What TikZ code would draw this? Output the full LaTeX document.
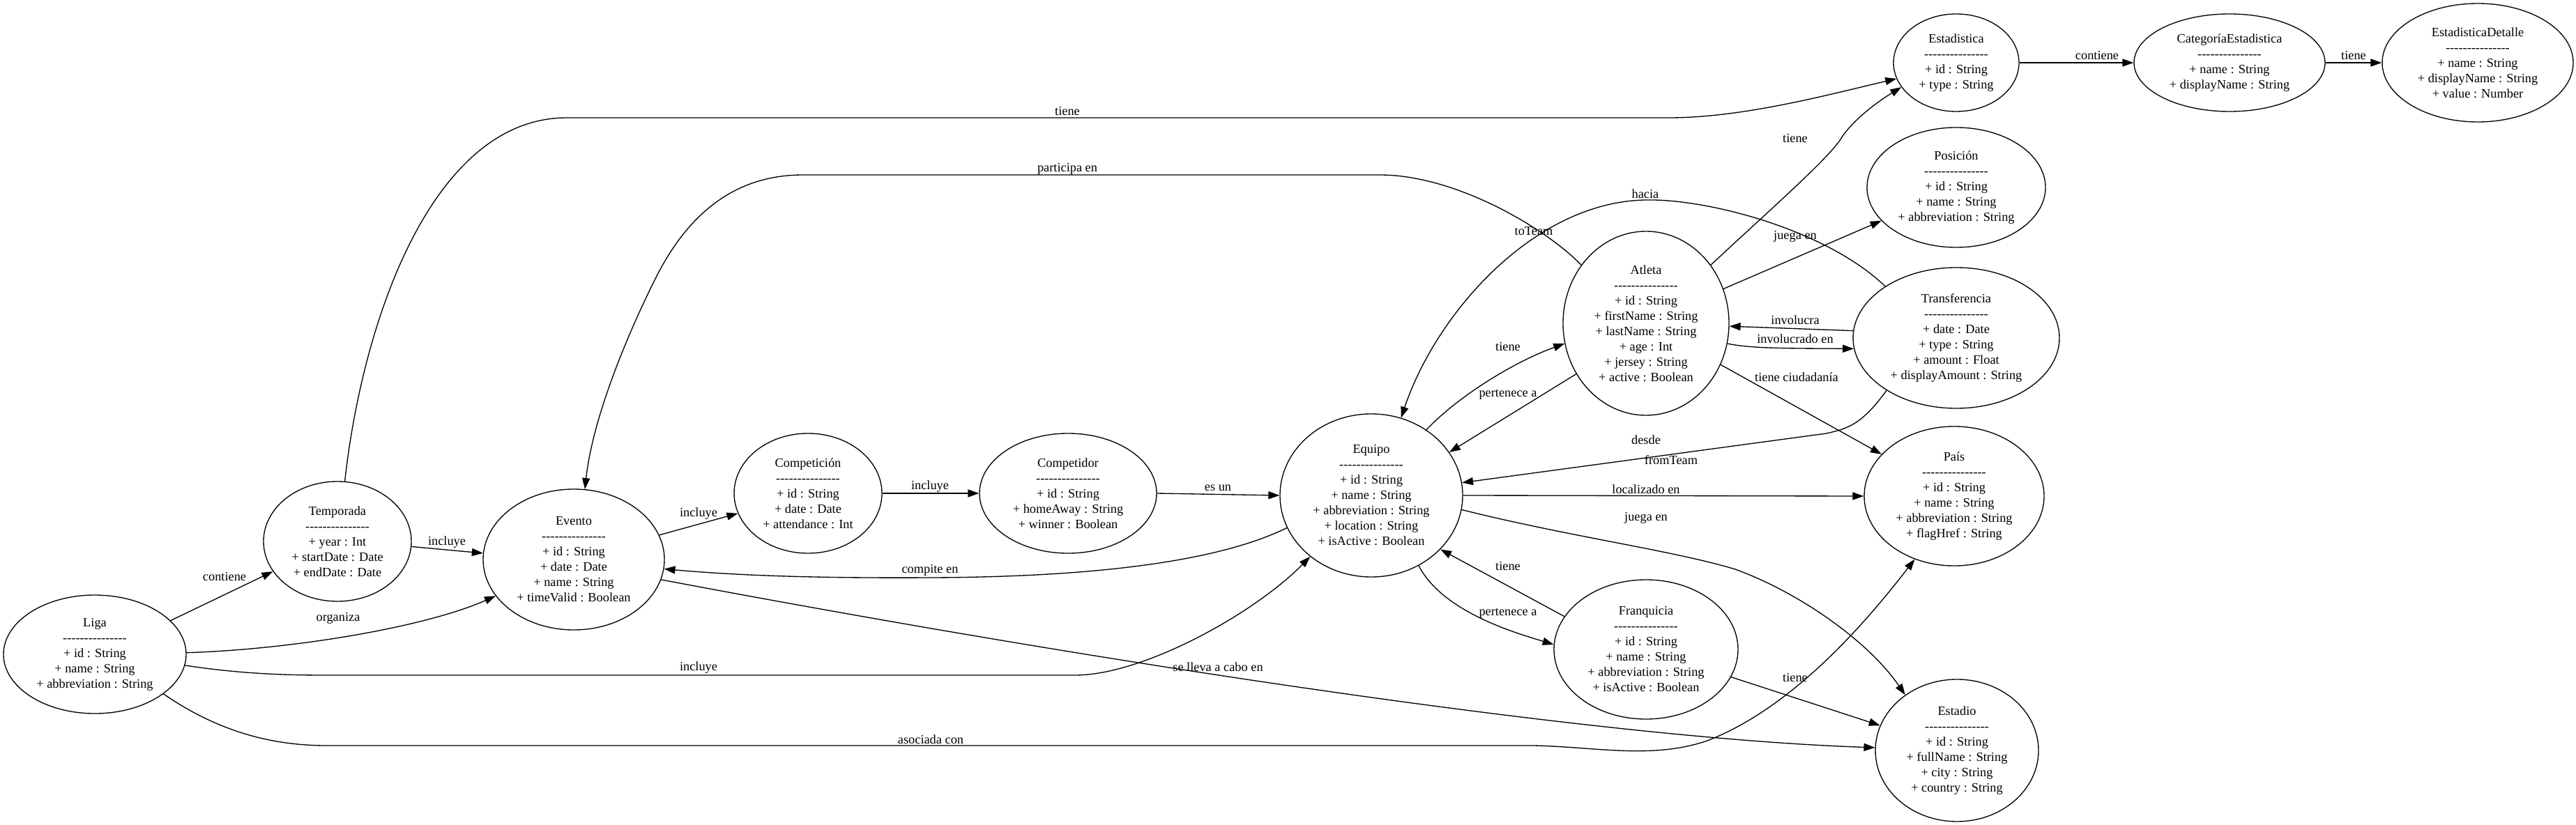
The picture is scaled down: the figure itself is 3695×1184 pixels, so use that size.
\documentclass[tikz,border=0pt]{standalone}
\usepackage{fontspec}
\setmainfont{Liberation Serif}
\usetikzlibrary{shapes.geometric,arrows.meta}
\newcommand\dl{-\kern0pt-\kern0pt-\kern0pt-\kern0pt-\kern0pt-\kern0pt-\kern0pt-\kern0pt-\kern0pt-\kern0pt-\kern0pt-\kern0pt-\kern0pt-\kern0pt-}
\begin{document}
\begin{tikzpicture}[x=0.75pt,y=-0.75pt,
  ent/.style 2 args={ellipse,draw,line width=1pt,inner sep=0pt,minimum width=#1*1.5pt,minimum height=#2*1.5pt,align=center,font=\fontsize{13.75pt}{16.5pt}\selectfont},
  lbl/.style={inner sep=0pt,font=\fontsize{13.75pt}{16.5pt}\selectfont},
  rel/.style={draw,line width=1pt,-{Triangle[length=12pt,width=8.3pt]}}]
\useasboundingbox[fill=white] (0,0) rectangle (3695,1184);

% entities
\node[ent={131}{85}] (liga) at (136,939) {Liga\\\dl\\+ id : String\\+ name : String\\+ abbreviation : String};
\node[ent={106}{86}] (temporada) at (484,777) {Temporada\\\dl\\+ year : Int\\+ startDate : Date\\+ endDate : Date};
\node[ent={130}{101}] (evento) at (823,803) {Evento\\\dl\\+ id : String\\+ date : Date\\+ name : String\\+ timeValid : Boolean};
\node[ent={106}{86}] (competicion) at (1159,708) {Competición\\\dl\\+ id : String\\+ date : Date\\+ attendance : Int};
\node[ent={127}{86}] (competidor) at (1532,708) {Competidor\\\dl\\+ id : String\\+ homeAway : String\\+ winner : Boolean};
\node[ent={131}{117}] (equipo) at (1967,711) {Equipo\\\dl\\+ id : String\\+ name : String\\+ abbreviation : String\\+ location : String\\+ isActive : Boolean};
\node[ent={119}{132}] (atleta) at (2361,464) {Atleta\\\dl\\+ id : String\\+ firstName : String\\+ lastName : String\\+ age : Int\\+ jersey : String\\+ active : Boolean};
\node[ent={148}{101}] (transferencia) at (2806,485) {Transferencia\\\dl\\+ date : Date\\+ type : String\\+ amount : Float\\+ displayAmount : String};
\node[ent={129}{100}] (pais) at (2803,712) {País\\\dl\\+ id : String\\+ name : String\\+ abbreviation : String\\+ flagHref : String};
\node[ent={128}{86}] (posicion) at (2806,269) {Posición\\\dl\\+ id : String\\+ name : String\\+ abbreviation : String};
\node[ent={132}{100}] (franquicia) at (2361,932) {Franquicia\\\dl\\+ id : String\\+ name : String\\+ abbreviation : String\\+ isActive : Boolean};
\node[ent={117}{102}] (estadio) at (2807,1077) {Estadio\\\dl\\+ id : String\\+ fullName : String\\+ city : String\\+ country : String};
\node[ent={90}{70}] (estadistica) at (2806,90) {Estadistica\\\dl\\+ id : String\\+ type : String};
\node[ent={137}{70}] (categoria) at (3198,90) {CategoríaEstadistica\\\dl\\+ name : String\\+ displayName : String};
\node[ent={137}{85}] (detalle) at (3554,90) {EstadisticaDetalle\\\dl\\+ name : String\\+ displayName : String\\+ value : Number};

% connectors
\draw[rel] (liga.24) -- (temporada.205);
\draw[rel] (liga.1) .. controls (420,932) and (610,900) .. (evento.205);
\draw[rel] (temporada.-4) -- (evento.176);
\draw[rel] (liga.-7) .. controls (350,968) and (420,969) .. (469,969) -- (1542,969) .. controls (1640,969) and (1800,880) .. (equipo.225);
\draw[rel] (liga.-30) .. controls (320,1055) and (400,1070) .. (469,1070) -- (2200,1070) .. controls (2290,1072) and (2370,1090) .. (2449,1063) .. controls (2560,1020) and (2660,915) .. (pais.-122);
\draw[rel] (evento.16) -- (competicion.196);
\draw[rel] (competicion.0) -- (competidor.180);
\draw[rel] (competidor.0) -- (equipo.180);
\draw[rel] (equipo.201) .. controls (1760,800) and (1600,828) .. (1334,829) .. controls (1150,830) and (1050,825) .. (evento.-6);
\draw[rel] (evento.-13) .. controls (1600,955) and (2300,1060) .. (estadio.178);
\draw[rel] (equipo.50) .. controls (2090,570) and (2170,520) .. (atleta.194);
\draw[rel] (atleta.216) -- (equipo.29);
\draw[rel] (atleta.138) .. controls (2220,330) and (2090,251) .. (1979,251) -- (1152,251) .. controls (1060,251) and (990,300) .. (940,400) .. controls (900,480) and (850,600) .. (evento.81);
\draw[rel] (temporada.83) .. controls (520,460) and (620,169) .. (813,169) -- (2394,169) .. controls (2500,169) and (2622,136) .. (estadistica.195);
\draw[rel] (atleta.42) .. controls (2540,300) and (2620,230) .. (2640,200) .. controls (2655,175) and (2690,148) .. (estadistica.204);
\draw[rel] (atleta.24) -- (posicion.204);
\draw[rel] (transferencia.176) -- (atleta.-2);
\draw[rel] (atleta.-14) .. controls (2510,500) and (2560,500) .. (transferencia.186);
\draw[rel] (atleta.-29) -- (pais.150);
\draw[rel] (transferencia.144) .. controls (2620,330) and (2450,285) .. (2360,287) .. controls (2200,290) and (2060,450) .. (equipo.69);
\draw[rel] (transferencia.217) .. controls (2670,610) and (2650,615) .. (2620,622) -- (equipo.8);
\draw[rel] (equipo.0) -- (pais.180);
\draw[rel] (equipo.-9) .. controls (2250,770) and (2400,790) .. (2489,817) .. controls (2580,850) and (2680,920) .. (estadio.133);
\draw[rel] (franquicia.158) -- (equipo.-38);
\draw[rel] (equipo.-56) .. controls (2070,880) and (2180,910) .. (franquicia.177);
\draw[rel] (franquicia.-18) -- (estadio.162);
\draw[rel] (estadistica.0) -- (categoria.180);
\draw[rel] (categoria.0) -- (detalle.180);

% labels
\node[lbl] (l1) at (322,828) {contiene};
\node[lbl] (l2) at (485,887) {organiza};
\node[lbl] (l3) at (641,778) {incluye};
\node[lbl] (l4) at (1002,958) {incluye};
\node[lbl] (l5) at (1335,1061) {asociada con};
\node[lbl] (l6) at (1002,737) {incluye};
\node[lbl] (l7) at (1334,698) {incluye};
\node[lbl] (l8) at (1747,700) {es un};
\node[lbl] (l9) at (1334,818) {compite en};
\node[lbl] (l10) at (1747,957) {se lleva a cabo en};
\node[lbl] (l11) at (2163,498) {tiene};
\node[lbl] (l12) at (2163,566) {pertenece a};
\node[lbl] (l13) at (1531,242) {participa en};
\node[lbl] (l14) at (1531,160) {tiene};
\node[lbl] (l15) at (2575,199) {tiene};
\node[lbl] (l16) at (2575,339) {juega en};
\node[lbl] (l17) at (2575,459) {involucra};
\node[lbl] (l18) at (2575,486) {involucrado en};
\node[lbl] (l19) at (2577,541) {tiene ciudadanía};
\node[lbl] (l20) at (2360,278) {hacia};
\node[lbl] (l20b) at (2200,332) {toTeam};
\node[lbl] (l21) at (2361,631) {desde};
\node[lbl] (l21b) at (2397,660) {fromTeam};
\node[lbl] (l22) at (2361,702) {localizado en};
\node[lbl] (l23) at (2361,743) {juega en};
\node[lbl] (l24) at (2163,813) {tiene};
\node[lbl] (l25) at (2163,880) {pertenece a};
\node[lbl] (l26) at (2575,973) {tiene};
\node[lbl] (l27) at (3008,80) {contiene};
\node[lbl] (l28) at (3376,80) {tiene};
\end{tikzpicture}
\end{document}
